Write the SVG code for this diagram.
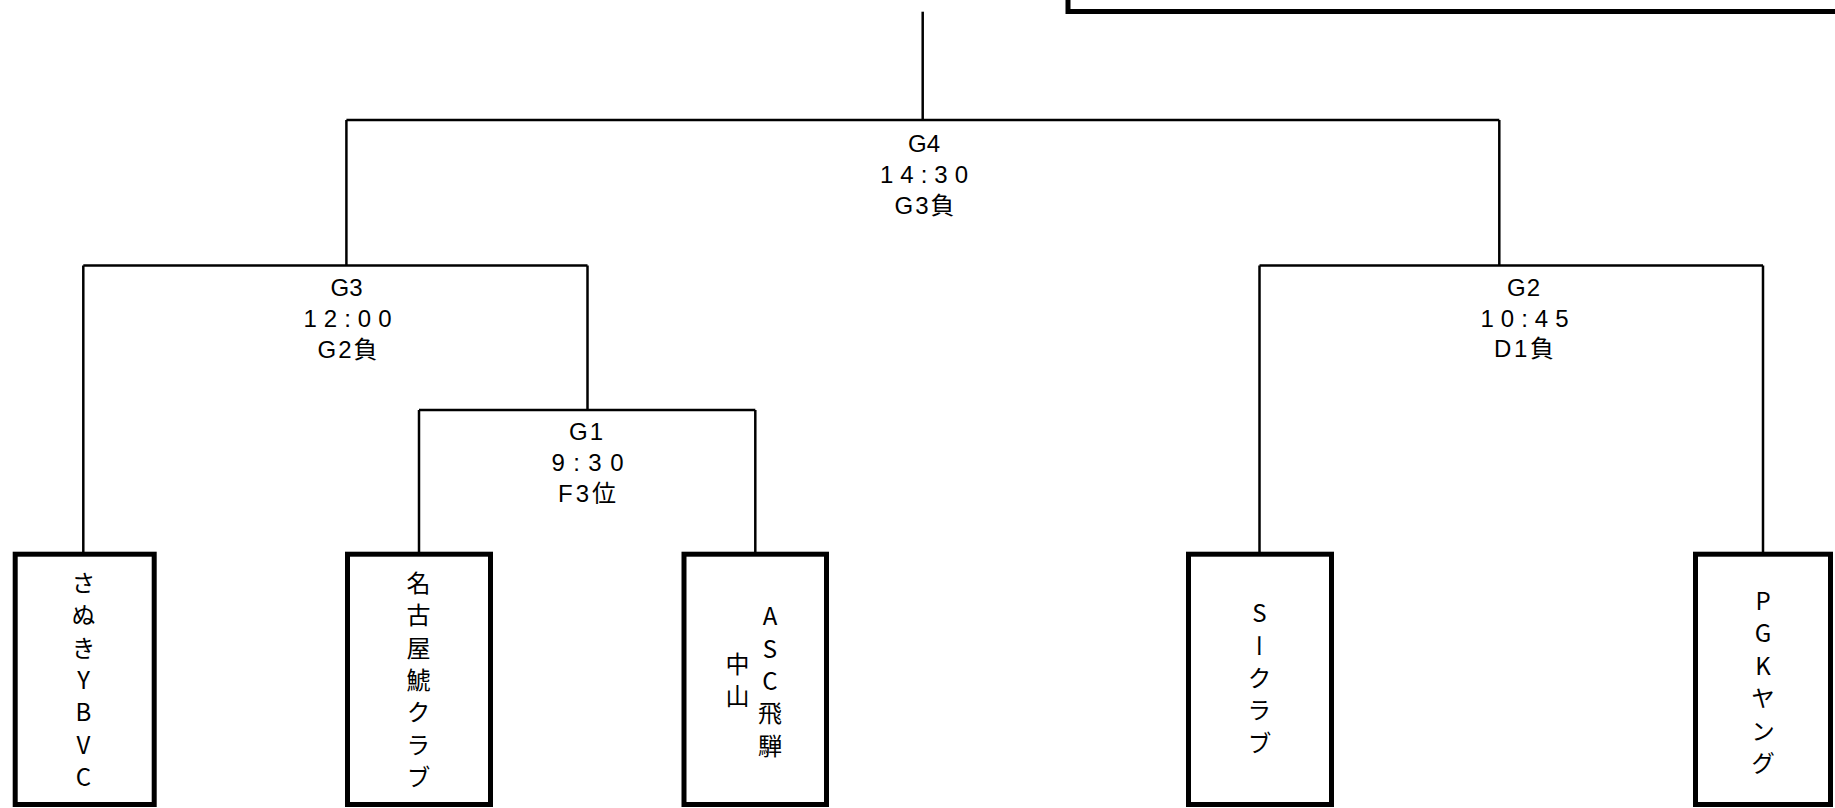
<svg xmlns="http://www.w3.org/2000/svg" width="1835" height="808" viewBox="0 0 1835 808">
<style>
.ln{fill:none;stroke:#000;stroke-width:2.5}
.box{fill:#fff;stroke:#000;stroke-width:5}
.lbl{font-family:"Liberation Sans","Noto Sans CJK JP",sans-serif;font-size:24px;fill:#000;text-anchor:middle}
.vt{font-family:"Noto Sans CJK JP","Noto Sans",sans-serif;font-size:24px;fill:#000;writing-mode:vertical-rl;text-orientation:upright;text-anchor:middle;letter-spacing:8.4px}
</style>
<rect width="1835" height="808" fill="#fff"/>
<g id="top-box"><rect class="box" x="1068" y="-100" width="900" height="111.5" stroke-width="5.5"/></g>
<g id="connectors">
<path class="ln" d="M922.7 11.7V120"/>
<path class="ln" d="M346.4 120H1499.3"/>
<path class="ln" d="M346.4 120V265.5"/>
<path class="ln" d="M1499.3 120V265.5"/>
<path class="ln" d="M83.3 265.5H587.5"/>
<path class="ln" d="M83.3 265.5V552"/>
<path class="ln" d="M587.5 265.5V410"/>
<path class="ln" d="M419 410H755.3"/>
<path class="ln" d="M419 410V552"/>
<path class="ln" d="M755.3 410V552"/>
<path class="ln" d="M1259.5 265.5H1763"/>
<path class="ln" d="M1259.5 265.5V552"/>
<path class="ln" d="M1763 265.5V552"/>
</g>
<g id="G4">
<text class="lbl"><tspan x="924" y="152" textLength="32" lengthAdjust="spacing">G4</tspan><tspan x="924" y="183" textLength="88" lengthAdjust="spacing">14:30</tspan><tspan x="924.5" y="214" textLength="60" lengthAdjust="spacing">G3負</tspan></text>
</g>
<g id="G3">
<text class="lbl"><tspan x="346.5" y="296" textLength="32" lengthAdjust="spacing">G3</tspan><tspan x="347.5" y="327" textLength="88" lengthAdjust="spacing">12:00</tspan><tspan x="347.5" y="358" textLength="60" lengthAdjust="spacing">G2負</tspan></text>
</g>
<g id="G1">
<text class="lbl"><tspan x="586" y="440" textLength="34" lengthAdjust="spacing">G1</tspan><tspan x="587.5" y="471" textLength="72" lengthAdjust="spacing">9:30</tspan><tspan x="587" y="502" textLength="58" lengthAdjust="spacing">F3位</tspan></text>
</g>
<g id="G2">
<text class="lbl"><tspan x="1523.5" y="296" textLength="33" lengthAdjust="spacing">G2</tspan><tspan x="1524.5" y="327" textLength="88" lengthAdjust="spacing">10:45</tspan><tspan x="1524" y="357" textLength="60" lengthAdjust="spacing">D1負</tspan></text>
</g>
<g id="team-sanuki">
<rect class="box" x="15.2" y="554.2" width="139" height="250.3"/>
<text class="vt" x="83.5" y="684">さぬきYBVC</text>
</g>
<g id="team-nagoya">
<rect class="box" x="347.5" y="554.2" width="143" height="250.3"/>
<text class="vt" x="418.5" y="684">名古屋鯱クラブ</text>
</g>
<g id="team-asc">
<rect class="box" x="684" y="554.2" width="142.5" height="250.3"/>
<text class="vt" x="770" y="685">ASC飛騨</text>
<text class="vt" x="737.5" y="684">中山</text>
</g>
<g id="team-s">
<rect class="box" x="1188.5" y="554.2" width="143" height="250.3"/>
<text class="vt" x="1259.5" y="682">Sークラブ</text>
</g>
<g id="team-pgk">
<rect class="box" x="1695.5" y="554.2" width="135" height="250.3"/>
<text class="vt" x="1763" y="686">PGKヤング</text>
</g>
</svg>
